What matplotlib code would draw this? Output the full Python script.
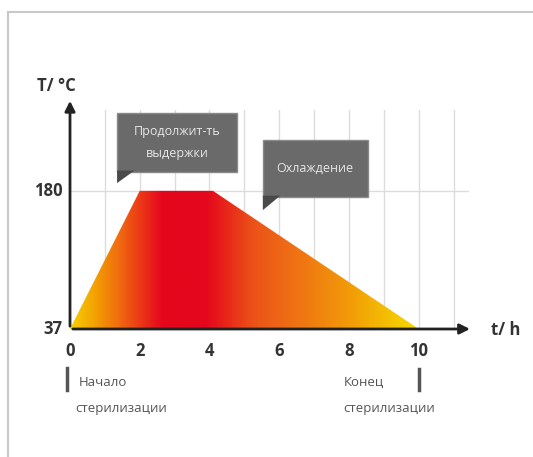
import matplotlib
matplotlib.use("Agg")
import matplotlib.pyplot as plt
import numpy as np
from matplotlib.colors import LinearSegmentedColormap
from matplotlib.patches import Polygon, FancyBboxPatch
from matplotlib.lines import Line2D

plt.rcParams['font.family'] = ['Open Sans', 'DejaVu Sans']

# Data
profile_t = [0, 2, 4.1, 10]
profile_T = [37, 180, 180, 37]
x_ticks = [0, 2, 4, 6, 8, 10]
x_tick_labels = ["0", "2", "4", "6", "8", "10"]
y_ticks = [37, 180]
y_tick_labels = ["37", "180"]
grid_t = [1, 2, 3, 4, 5, 6, 7, 8, 9, 10, 11]
box1_text = "Продолжит-ть\nвыдержки"
box2_text = "Охлаждение"
start_text = ["Начало", "стерилизации"]
end_text = ["Конец", "стерилизации"]

W, H = 533, 457
fig = plt.figure(figsize=(W / 100, H / 100), dpi=100)
fig.patch.set_facecolor("white")

# frame lines (top and left)
fig.add_artist(Line2D([8 / W, 1], [1 - 12 / H, 1 - 12 / H], color="#c8c8c8", lw=1.5))
fig.add_artist(Line2D([8 / W, 8 / W], [0, 1 - 12 / H], color="#c8c8c8", lw=1.5))

ax = fig.add_axes([70 / W, (H - 329) / H, (471 - 70) / W, (329 - 100) / H])
ax.set_xlim(0, 11.5)
ax.set_ylim(37, 274)
ax.axis("off")

# grid
for t in grid_t:
    ax.plot([t, t], [37, 264], color="#dcdcdc", lw=1, zorder=0)
ax.plot([0, 11.4], [180, 180], color="#dcdcdc", lw=1, zorder=0)

# gradient fill
cmap = LinearSegmentedColormap.from_list("heat", [
    (0.00, "#f6d000"),
    (0.07, "#f3a000"),
    (0.14, "#f06a10"),
    (0.21, "#ea3018"),
    (0.26, "#e5081c"),
    (0.39, "#e4061c"),
    (0.45, "#e8281a"),
    (0.53, "#ec5418"),
    (0.65, "#ef7214"),
    (0.80, "#f29a08"),
    (0.92, "#f4c200"),
    (1.00, "#f6da00"),
])
grad = np.linspace(0, 1, 500).reshape(1, -1)
im = ax.imshow(grad, extent=[0, 10, 37, 180], aspect="auto", cmap=cmap,
               origin="lower", zorder=1)
poly = Polygon(list(zip(profile_t, profile_T)), closed=True, transform=ax.transData,
               facecolor="none", edgecolor="none")
ax.add_patch(poly)
im.set_clip_path(poly)

# axes with arrows
ax.annotate("", xy=(11.55, 37), xytext=(0, 37),
            arrowprops=dict(arrowstyle="-|>,head_length=0.6,head_width=0.3",
                            color="#222222", lw=2), annotation_clip=False, zorder=5)
ax.annotate("", xy=(0, 276), xytext=(0, 37),
            arrowprops=dict(arrowstyle="-|>,head_length=0.6,head_width=0.3",
                            color="#222222", lw=2), annotation_clip=False, zorder=5)

# tick labels
for t, lab in zip(x_ticks, x_tick_labels):
    ax.text(t, 37 - 23, lab, ha="center", va="center", fontsize=12,
            fontweight="bold", color="#333333", clip_on=False)
for T, lab in zip(y_ticks, y_tick_labels):
    ax.text(-0.22, T, lab, ha="right", va="center", fontsize=12,
            fontweight="bold", color="#333333", clip_on=False)
ax.text(-0.4, 288, "T/ °C", ha="center", va="center", fontsize=12,
        fontweight="bold", color="#333333", clip_on=False)
ax.text(12.5, 35.5, "t/ h", ha="center", va="center", fontsize=12,
        fontweight="bold", color="#333333", clip_on=False)

# callout boxes
def callout(x0, x1, y0, y1, tip, text):
    box = FancyBboxPatch((x0, y0), x1 - x0, y1 - y0,
                         boxstyle="square,pad=0", facecolor="#6a6a6a",
                         edgecolor="#8a8a8a", lw=1, zorder=6, clip_on=False)
    ax.add_patch(box)
    tail = Polygon([(x0, y0 + 1), (x0 + 0.5, y0 + 1), (x0, tip)], closed=True,
                   facecolor="#4a4a4a", edgecolor="none", zorder=6, clip_on=False)
    ax.add_patch(tail)
    ax.text((x0 + x1) / 2, (y0 + y1) / 2, text, ha="center", va="center",
            fontsize=9, color="#e6e6e6", zorder=7, linespacing=1.9, clip_on=False)

callout(1.35, 4.79, 200, 261, 188, box1_text)
callout(5.53, 8.54, 174, 233, 160, box2_text)

# start / end markers
ax.plot([-0.08, -0.08], [37 - 40, 37 - 63], color="#555555", lw=2.5, clip_on=False)
ax.text(0.25, 37 - 55, start_text[0], ha="left", va="center", fontsize=9.5,
        color="#555555", clip_on=False)
ax.text(0.15, 37 - 82, start_text[1], ha="left", va="center", fontsize=9.5,
        color="#555555", clip_on=False)
ax.plot([10.0, 10.0], [37 - 41, 37 - 63], color="#555555", lw=2.5, clip_on=False)
ax.text(7.85, 37 - 55, end_text[0], ha="left", va="center", fontsize=9.5,
        color="#555555", clip_on=False)
ax.text(7.85, 37 - 82, end_text[1], ha="left", va="center", fontsize=9.5,
        color="#555555", clip_on=False)

fig.savefig("out.png", dpi=100, facecolor="white")
